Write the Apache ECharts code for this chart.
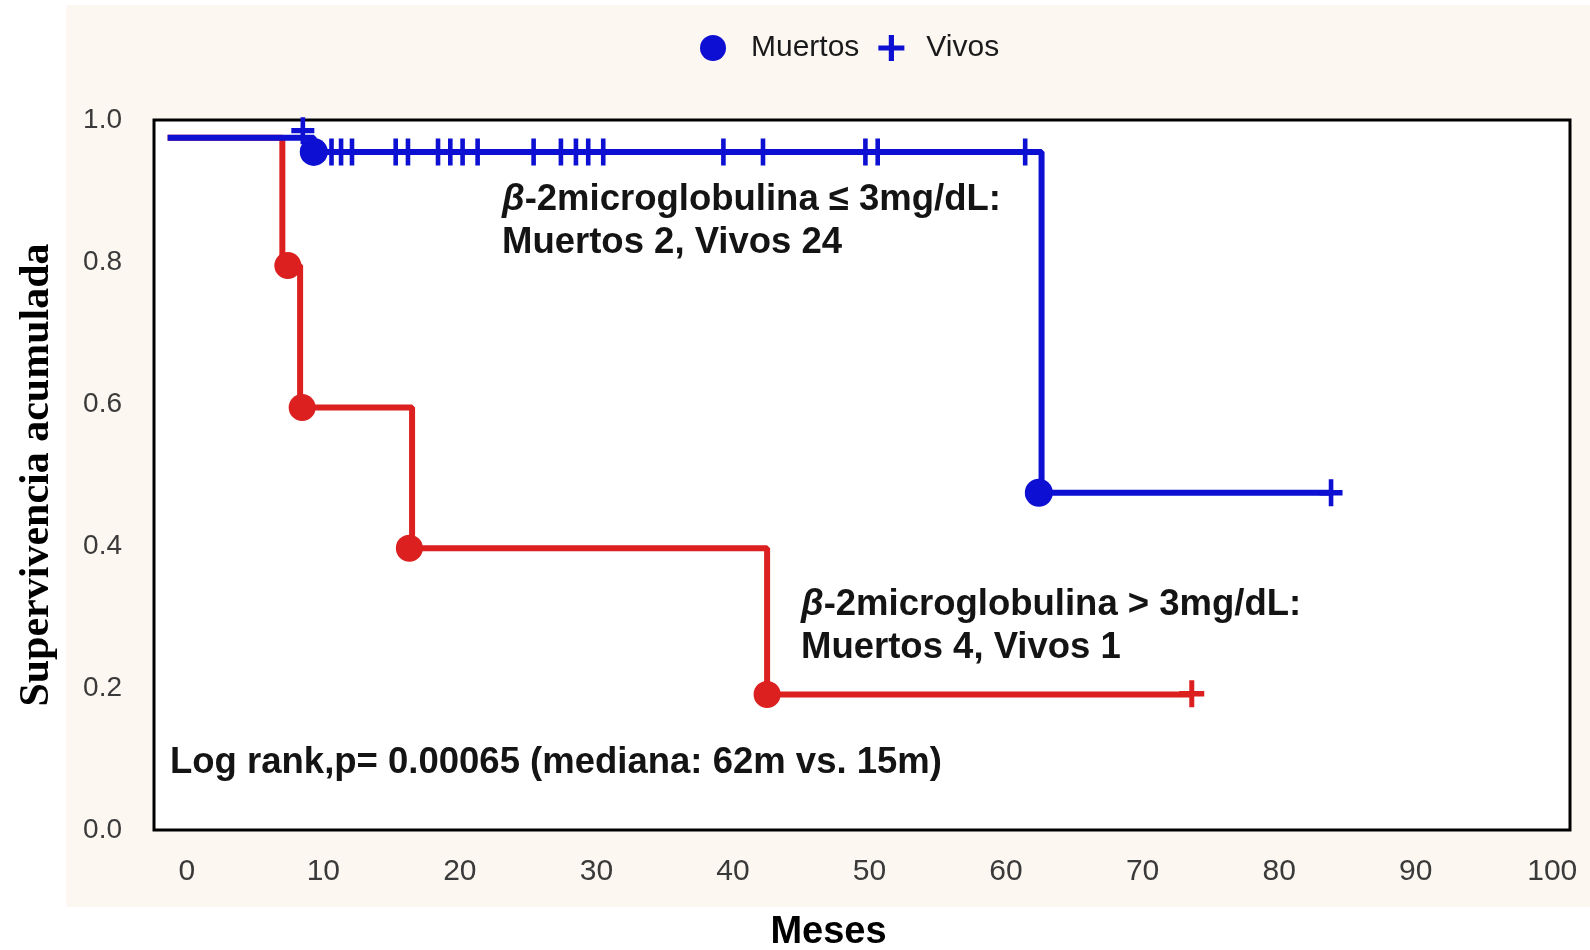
<!DOCTYPE html>
<html>
<head>
<meta charset="utf-8">
<script src="https://cdn.jsdelivr.net/npm/echarts@6/dist/echarts.min.js"></script>
<style>
html,body{margin:0;padding:0;background:#fff;}
#chart{width:1590px;height:950px;}
</style>
</head>
<body>
<div id="chart"></div>
<script>
// ---- data ----
const xTickValues = [0, 10, 20, 30, 40, 50, 60, 70, 80, 90, 100];
const yTickValues = [0, 0.2, 0.4, 0.6, 0.8, 1.0];

// beta-2 microglobulin <= 3 mg/dL (blue) : Kaplan-Meier steps
const lowTimes = [-1.4, 9.3, 62.6, 83.9];
const lowSurv  = [0.975, 0.955, 0.475, 0.475];
const lowDeathTimes = [9.3, 62.4];
const lowDeathSurv  = [0.955, 0.475];
const lowCensorTimes = [8.5, 10.6, 11.3, 12.1, 15.3, 16.2, 18.4, 19.3, 20.2, 21.3, 25.4, 27.4, 28.5, 29.4, 30.5, 39.3, 42.2, 49.7, 50.6, 61.4, 83.8];
const lowCensorSurv  = [0.985, 0.955, 0.955, 0.955, 0.955, 0.955, 0.955, 0.955, 0.955, 0.955, 0.955, 0.955, 0.955, 0.955, 0.955, 0.955, 0.955, 0.955, 0.955, 0.955, 0.475];

// beta-2 microglobulin > 3 mg/dL (red)
const highTimes = [-1.4, 7.0, 8.3, 16.5, 42.5, 73.6];
const highSurv  = [0.975, 0.795, 0.595, 0.397, 0.191, 0.191];
const highDeathTimes = [7.4, 8.45, 16.3, 42.5];
const highDeathSurv  = [0.795, 0.595, 0.397, 0.191];
const highCensorTimes = [73.6];
const highCensorSurv  = [0.192];

const xMin = -2.4, xMax = 101.3;

// ---- styles ----
const BLUE = '#0d0fd2';
const RED = '#dc1f1f';
const PLUS = 'path://M4,0H6V4H10V6H6V10H4V6H0V4H4Z';
const SANS = '"Liberation Sans", Arial, sans-serif';
const SERIF = '"Liberation Serif", "Times New Roman", serif';

const zip = (a, b) => a.map((v, i) => [v, b[i]]);

const annFont = 'bold 36.5px ' + SANS;
const richB = {b: {fontStyle: 'italic', fontWeight: 'bold', fontSize: 36.5, fontFamily: SANS, fill: '#141414', lineHeight: 43}};

const chart = echarts.init(document.getElementById('chart'), null, {renderer: 'canvas'});
chart.setOption({
  backgroundColor: '#ffffff',
  animation: false,
  graphic: [
    {type: 'rect', z: -10, shape: {x: 66, y: 5, width: 1524, height: 902}, style: {fill: '#fcf7f1'}},
    {type: 'text', z: 100, x: 502, y: 178, style: {
      text: '{b|β}-2microglobulina ≤ 3mg/dL:\nMuertos 2, Vivos 24',
      font: annFont, fill: '#141414', lineHeight: 43, verticalAlign: 'top', rich: richB
    }},
    {type: 'text', z: 100, x: 801, y: 583, style: {
      text: '{b|β}-2microglobulina > 3mg/dL:\nMuertos 4, Vivos 1',
      font: annFont, fill: '#141414', lineHeight: 43, verticalAlign: 'top', rich: richB
    }},
    {type: 'text', z: 100, x: 170, y: 763, style: {
      text: 'Log rank,p= 0.00065 (mediana: 62m vs. 15m)',
      font: annFont, fill: '#141414', verticalAlign: 'middle'
    }}
  ],
  legend: {
    left: 695, top: 28,
    selectedMode: false,
    itemWidth: 26, itemHeight: 29, itemGap: 19,
    textStyle: {fontFamily: SANS, fontSize: 30, color: '#1a1a1a'},
    data: [
      {name: 'Muertos', icon: 'circle', textStyle: {fontFamily: SANS, fontSize: 30, color: '#1a1a1a', padding: [0, 0, 0, 20]}},
      {name: 'Vivos', icon: PLUS, textStyle: {fontFamily: SANS, fontSize: 30, color: '#1a1a1a', padding: [0, 0, 0, 17]}}
    ]
  },
  grid: {
    left: 154, right: 20, top: 120, bottom: 120,
    show: true, backgroundColor: '#ffffff', borderColor: '#000', borderWidth: 3,
    containLabel: false, outerBoundsMode: 'none'
  },
  xAxis: {
    type: 'value', min: xMin, max: xMax,
    name: 'Meses', nameLocation: 'middle', nameGap: 84,
    nameTextStyle: {fontFamily: SANS, fontWeight: 'bold', fontSize: 38, color: '#000', padding: [0, 67, 0, 0]},
    axisLine: {show: false}, axisTick: {show: false}, splitLine: {show: false},
    axisLabel: {customValues: xTickValues, margin: 27, fontFamily: SANS, fontSize: 30, color: '#3a3a3a'}
  },
  yAxis: {
    type: 'value', min: 0, max: 1, interval: 0.2,
    name: 'Supervivencia acumulada', nameLocation: 'middle', nameGap: 96,
    nameTextStyle: {fontFamily: SERIF, fontWeight: 'bold', fontSize: 42, color: '#000'},
    axisLine: {show: false}, axisTick: {show: false}, splitLine: {show: false},
    axisLabel: {customValues: yTickValues, margin: 32, fontFamily: SANS, fontSize: 28, color: '#3a3a3a',
      formatter: v => v.toFixed(1)}
  },
  series: [
    {name: 'alto', type: 'line', step: 'end', data: zip(highTimes, highSurv), showSymbol: false, symbol: 'none',
      lineStyle: {color: RED, width: 6}, itemStyle: {color: RED}, z: 2, clip: false},
    {name: 'bajo', type: 'line', step: 'end', data: zip(lowTimes, lowSurv), showSymbol: false, symbol: 'none',
      lineStyle: {color: BLUE, width: 6}, itemStyle: {color: BLUE}, z: 3, clip: false},
    {name: 'Muertos alto', type: 'scatter', data: zip(highDeathTimes, highDeathSurv), symbol: 'circle', symbolSize: 27,
      itemStyle: {color: RED, opacity: 1}, z: 5, clip: false},
    {name: 'Vivos alto', type: 'scatter', data: zip(highCensorTimes, highCensorSurv), symbol: PLUS, symbolSize: [25, 27],
      itemStyle: {color: RED, opacity: 1}, z: 5, clip: false},
    {name: 'Muertos', type: 'scatter', data: zip(lowDeathTimes, lowDeathSurv), symbol: 'circle', symbolSize: 28,
      itemStyle: {color: BLUE, opacity: 1}, z: 6, clip: false},
    {name: 'Vivos', type: 'scatter', data: zip(lowCensorTimes, lowCensorSurv), symbol: PLUS, symbolSize: [23, 27],
      itemStyle: {color: BLUE, opacity: 1}, z: 6, clip: false}
  ]
});
</script>
</body>
</html>
